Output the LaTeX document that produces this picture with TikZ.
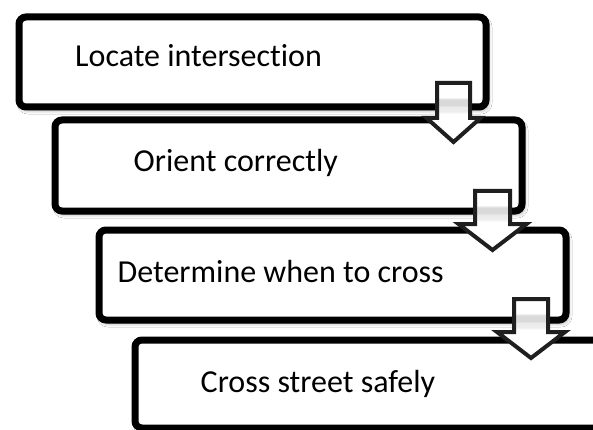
\documentclass[tikz,border=0pt]{standalone}
\usepackage{fontspec}
\setmainfont{Carlito}[Ligatures=NoCommon]
\usetikzlibrary{calc,shadows.blur}

% pale band across the arrow shaft (0bp bottom, 100bp top; the path spans 25bp..75bp)
\pgfdeclareverticalshading{arrowband}{100bp}{%
  color(0bp)=(white); color(49bp)=(white);
  color(51bp)=(black!7); color(55bp)=(black!8);
  color(56bp)=(black!15); color(61bp)=(black!15);
  color(63bp)=(white); color(100bp)=(white)}

\tikzset{
  stepbox/.style={rectangle, draw=black, line width=7pt, fill=white,
    rounded corners=7pt, inner sep=0pt, anchor=north west,
    minimum width=467pt,
    blur shadow={shadow xshift=2pt, shadow yshift=-3pt,
      shadow blur radius=4pt, shadow blur steps=8, shadow opacity=40}},
  steptext/.style={anchor=base west, inner sep=0pt, text=black,
    font=\fontsize{32}{38}\selectfont},
  flowarrow/.style={draw=black!88, line width=4pt, line join=miter,
    shading=arrowband},
}

% block arrow from shaft top (#1) to tip (#2); shaft half width #3,
% head half width #4, head length #5 (all in pt)
\newcommand\flowdown[5]{%
  \path[flowarrow] let \p1=(#1), \p2=(#2) in
    (\x1-#3pt,\y1) -- (\x1+#3pt,\y1) -- (\x1+#3pt,\y2+#5pt)
    -- (\x1+#4pt,\y2+#5pt) -- (\x1,\y2) -- (\x1-#4pt,\y2+#5pt)
    -- (\x1-#3pt,\y2+#5pt) -- cycle;}

\begin{document}
\begin{tikzpicture}[x=1pt, y=-1pt]
  \useasboundingbox (0,0) rectangle (593,430);
  \fill[white] (0,0) rectangle (593,430);

  % the four steps, each stepped down and to the right
  \node[stepbox, minimum height=90pt] (b1) at (15.5,13.5) {};
  \node[stepbox, minimum height=91pt] (b2) at (51.5,116.5) {};
  \node[stepbox, minimum height=90pt] (b3) at (95.5,226.5) {};
  \node[stepbox, minimum height=88pt] (b4) at (131.5,336.5) {};

  \node[steptext] (t1) at (75,67) {Locate intersection};
  \node[steptext] (t2) at (133.5,172) {Orient correctly};
  \node[steptext] (t3) at (117.5,282) {Determine when to cross};
  \node[steptext] (t4) at (200.5,392) {Cross street safely};

  % arrow ends: shaft tops and tips
  \coordinate (s1) at (453.5,83);  \coordinate (e1) at (453.5,142);
  \coordinate (s2) at (492.5,191); \coordinate (e2) at (492.5,250);
  \coordinate (s3) at (531,299);   \coordinate (e3) at (531,358);

  \flowdown{s1}{e1}{16.5}{27}{24}
  \flowdown{s2}{e2}{17.5}{34}{26}
  \flowdown{s3}{e3}{17}{34}{26}
\end{tikzpicture}
\end{document}
